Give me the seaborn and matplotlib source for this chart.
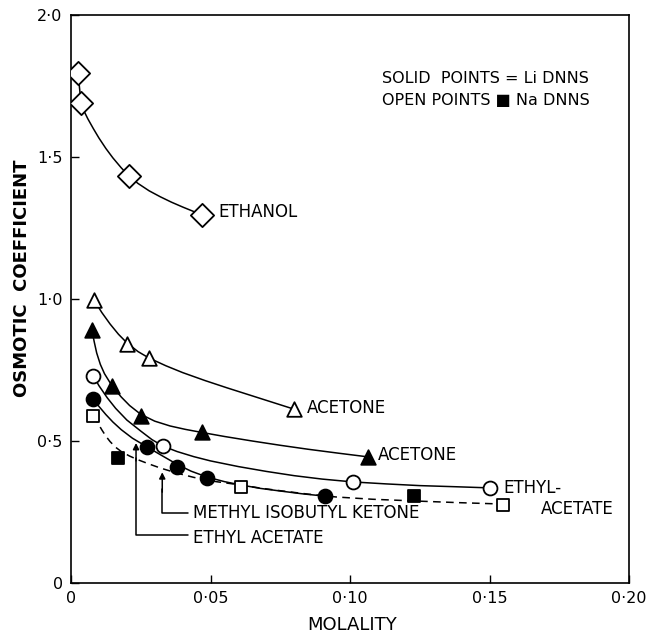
import numpy as np
import pandas as pd
import matplotlib
matplotlib.use("Agg")
import matplotlib.pyplot as plt
import seaborn as sns

# measured points: molality, osmotic coefficient
ethanol_m = [0.0025, 0.0036, 0.0208, 0.047]
ethanol_phi = [1.796, 1.69, 1.433, 1.296]

acetone_na_m = [0.0083, 0.020, 0.028, 0.080]
acetone_na_phi = [0.996, 0.842, 0.792, 0.612]

acetone_li_m = [0.0075, 0.0147, 0.025, 0.047, 0.1066]
acetone_li_phi = [0.89, 0.694, 0.588, 0.532, 0.444]

etac_na_m = [0.008, 0.033, 0.101, 0.150]
etac_na_phi = [0.729, 0.482, 0.356, 0.335]

etac_li_m = [0.008, 0.0273, 0.038, 0.0488, 0.091]
etac_li_phi = [0.648, 0.479, 0.408, 0.37, 0.306]

mibk_na_m = [0.008, 0.061, 0.155]
mibk_na_phi = [0.588, 0.338, 0.275]

mibk_li_m = [0.0169, 0.123]
mibk_li_phi = [0.44, 0.308]

# hand drawn curves
ethanol_curve_m = [0.0025, 0.0036, 0.0045, 0.006, 0.008, 0.010, 0.0125, 0.015,
                   0.018, 0.0208, 0.024, 0.028, 0.032, 0.036, 0.040, 0.044, 0.047]
ethanol_curve_phi = [1.796, 1.69, 1.665, 1.635, 1.60, 1.567, 1.53, 1.497,
                     1.462, 1.433, 1.407, 1.381, 1.360, 1.341, 1.324, 1.308, 1.296]

acetone_na_curve_m = [0.0083, 0.011, 0.014, 0.017, 0.020, 0.024, 0.028, 0.034,
                      0.040, 0.048, 0.056, 0.064, 0.072, 0.080]
acetone_na_curve_phi = [0.996, 0.953, 0.912, 0.876, 0.846, 0.815, 0.792, 0.765,
                        0.741, 0.713, 0.687, 0.662, 0.637, 0.612]

acetone_li_curve_m = [0.0075, 0.0083, 0.0092, 0.0105, 0.012, 0.0147, 0.018, 0.021,
                      0.025, 0.030, 0.0355, 0.041, 0.047, 0.055, 0.065, 0.075,
                      0.085, 0.096, 0.1066]
acetone_li_curve_phi = [0.89, 0.85, 0.81, 0.77, 0.737, 0.694, 0.655, 0.625,
                        0.594, 0.570, 0.553, 0.541, 0.530, 0.516, 0.500, 0.485,
                        0.471, 0.457, 0.444]

etac_na_curve_m = [0.008, 0.010, 0.013, 0.016, 0.020, 0.025, 0.029, 0.033, 0.038,
                   0.044, 0.050, 0.060, 0.070, 0.080, 0.090, 0.101, 0.113, 0.125,
                   0.138, 0.150]
etac_na_curve_phi = [0.729, 0.695, 0.652, 0.615, 0.574, 0.535, 0.505, 0.482, 0.463,
                     0.445, 0.430, 0.410, 0.393, 0.378, 0.366, 0.356, 0.349, 0.343,
                     0.339, 0.335]

etac_li_curve_m = [0.008, 0.010, 0.0125, 0.015, 0.018, 0.022, 0.0273, 0.032, 0.038,
                   0.043, 0.0488, 0.055, 0.061, 0.068, 0.075, 0.083, 0.091]
etac_li_curve_phi = [0.648, 0.622, 0.593, 0.567, 0.54, 0.51, 0.479, 0.452, 0.418,
                     0.394, 0.373, 0.357, 0.345, 0.333, 0.324, 0.314, 0.306]

mibk_curve_m = [0.008, 0.0095, 0.011, 0.0125, 0.014, 0.016, 0.018, 0.021, 0.024,
                0.028, 0.032, 0.038, 0.044, 0.052, 0.061, 0.068, 0.075, 0.085,
                0.095, 0.108, 0.123, 0.139, 0.155]
mibk_curve_phi = [0.588, 0.565, 0.54, 0.517, 0.498, 0.478, 0.463, 0.447, 0.434,
                  0.419, 0.405, 0.387, 0.372, 0.357, 0.345, 0.334, 0.325, 0.313,
                  0.303, 0.295, 0.289, 0.283, 0.278]

x_ticks = [0, 0.05, 0.10, 0.15, 0.20]
x_ticklabels = ["0", "0·05", "0·10", "0·15", "0·20"]
y_ticks = [0, 0.5, 1.0, 1.5, 2.0]
y_ticklabels = ["0", "0·5", "1·0", "1·5", "2·0"]

sns.set_style("ticks")
plt.rcParams["font.family"] = ["DejaVu Sans"]
plt.rcParams["text.color"] = "black"
plt.rcParams["axes.labelcolor"] = "black"
plt.rcParams["xtick.color"] = "black"
plt.rcParams["ytick.color"] = "black"
plt.rcParams["axes.edgecolor"] = "black"

fig = plt.figure(figsize=(6.54, 6.34), dpi=100)
ax = fig.add_axes([0.1086, 0.0804, 0.8532, 0.8959])

lw = 1.1
# curves (solid)
curves = [
    (ethanol_curve_m, ethanol_curve_phi),
    (acetone_na_curve_m, acetone_na_curve_phi),
    (acetone_li_curve_m, acetone_li_curve_phi),
    (etac_na_curve_m, etac_na_curve_phi),
    (etac_li_curve_m, etac_li_curve_phi),
]
for cm, cphi in curves:
    sns.lineplot(x=cm, y=cphi, sort=False, estimator=None, color="black",
                 linewidth=lw, ax=ax, zorder=2)
# dashed curve through the squares
sns.lineplot(x=mibk_curve_m, y=mibk_curve_phi, sort=False, estimator=None,
             color="black", linewidth=lw, dashes=False, ax=ax, zorder=2)
ax.lines[-1].set_dashes([5, 3.5])

# points
def pts(m, phi, marker, size, filled):
    sns.scatterplot(x=m, y=phi, marker=marker, s=size,
                    color="black" if filled else "white",
                    edgecolor="black", linewidth=1.3, ax=ax, zorder=4)

pts(ethanol_m, ethanol_phi, "D", 140, False)
pts(acetone_na_m, acetone_na_phi, "^", 110, False)
pts(acetone_li_m, acetone_li_phi, "^", 110, True)
pts(etac_na_m, etac_na_phi, "o", 100, False)
pts(etac_li_m, etac_li_phi, "o", 100, True)
pts(mibk_na_m, mibk_na_phi, "s", 85, False)
pts(mibk_li_m, mibk_li_phi, "s", 85, True)

# labels on curves
fs = 12
ax.text(0.0528, 1.306, "ETHANOL", fontsize=fs, va="center")
ax.text(0.0847, 0.616, "ACETONE", fontsize=fs, va="center")
ax.text(0.110, 0.45, "ACETONE", fontsize=fs, va="center")
ax.text(0.1548, 0.335, "ETHYL-", fontsize=fs, va="center")
ax.text(0.1684, 0.262, "ACETATE", fontsize=fs, va="center")
ax.text(0.0438, 0.246, "METHYL ISOBUTYL KETONE", fontsize=fs, va="center")
ax.text(0.0438, 0.158, "ETHYL ACETATE", fontsize=fs, va="center")
ax.text(0.1113, 1.775, "SOLID  POINTS = Li DNNS", fontsize=11.5, va="center")
ax.text(0.1113, 1.70, "OPEN POINTS \u25a0 Na DNNS", fontsize=11.5, va="center")

# leader lines with arrows
ax.plot([0.0418, 0.0327, 0.0327], [0.246, 0.246, 0.33], color="black", lw=lw)
ax.annotate("", xy=(0.0327, 0.39), xytext=(0.0327, 0.32),
            arrowprops=dict(arrowstyle="-|>", color="black", lw=lw,
                            mutation_scale=9, shrinkA=0, shrinkB=0))
ax.plot([0.0418, 0.0233, 0.0233], [0.169, 0.169, 0.44], color="black", lw=lw)
ax.annotate("", xy=(0.0233, 0.493), xytext=(0.0233, 0.43),
            arrowprops=dict(arrowstyle="-|>", color="black", lw=lw,
                            mutation_scale=9, shrinkA=0, shrinkB=0))

ax.set_xlim(0, 0.20)
ax.set_ylim(0, 2.0)
ax.set_xticks(x_ticks)
ax.set_xticklabels(x_ticklabels, fontsize=11.5)
ax.set_yticks(y_ticks)
ax.set_yticklabels(y_ticklabels, fontsize=11.5)
ax.tick_params(direction="in", length=6, width=1, pad=6)
for sp in ax.spines.values():
    sp.set_linewidth(1.2)
    sp.set_visible(True)

ax.set_xlabel("MOLALITY", fontsize=13, va="center")
ax.xaxis.set_label_coords(0.504, -0.074)
ax.set_ylabel("OSMOTIC  COEFFICIENT", fontsize=13, fontweight="bold", va="center")
ax.yaxis.set_label_coords(-0.088, 0.537)

fig.savefig("out.png", dpi=100)
